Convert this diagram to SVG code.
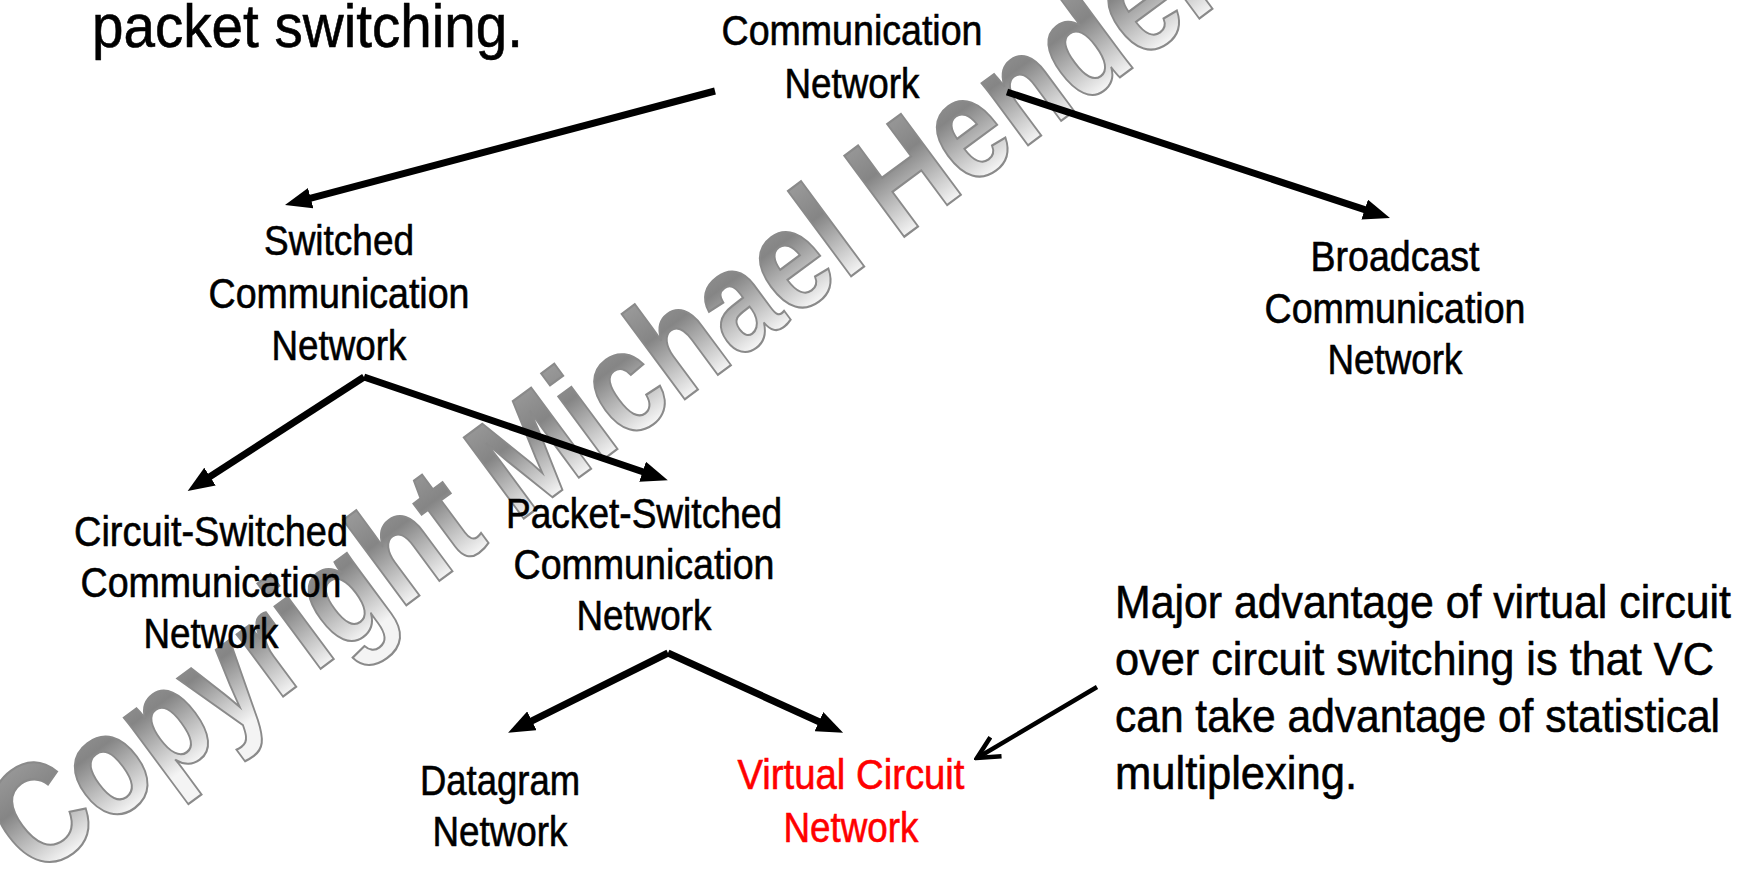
<svg xmlns="http://www.w3.org/2000/svg" width="1751" height="875" viewBox="0 0 1751 875">
<style>
.t{font-family:"Liberation Sans Narrow","Liberation Sans","Arial Narrow",Arial,sans-serif;font-size:42px;fill:#000;stroke:#000;stroke-width:0.6;text-anchor:middle}
.red{fill:#ff0000;stroke:#ff0000}
.note{font-family:"Liberation Sans Narrow","Liberation Sans","Arial Narrow",Arial,sans-serif;font-size:47px;fill:#000;stroke:#000;stroke-width:0.6}
.title{font-family:"Liberation Sans Narrow","Liberation Sans","Arial Narrow",Arial,sans-serif;font-size:62px;fill:#000;stroke:#000;stroke-width:0.6}
.wm{font-family:"Liberation Sans",Arial,sans-serif;font-weight:bold;font-size:120px;fill:url(#wmg);stroke:#8a8a8a;stroke-width:1.8}
.c{stroke:#000;stroke-width:7;fill:none;marker-end:url(#ah)}
.c2{stroke:#000;stroke-width:4.5;fill:none;marker-end:url(#oh)}
</style>
<defs>
<linearGradient id="wmg" gradientUnits="userSpaceOnUse" x1="0" y1="-92" x2="0" y2="0">
<stop offset="0" stop-color="#9c9c9c"/>
<stop offset="0.4" stop-color="#858585"/>
<stop offset="1" stop-color="#f4f4f4"/>
</linearGradient>
<marker id="ah" viewBox="0 0 38 30" markerWidth="3.8" markerHeight="3" refX="8" refY="15" orient="auto" markerUnits="strokeWidth">
<path d="M0,0 L38,15 L0,30 z" fill="#000"/>
</marker>
<marker id="oh" viewBox="0 0 26 26" markerWidth="26" markerHeight="26" refX="23" refY="13" orient="auto" markerUnits="userSpaceOnUse">
<path d="M1,2 L23,13 L1,24" fill="none" stroke="#000" stroke-width="4.5" stroke-linejoin="miter"/>
</marker>
</defs>
<rect width="1751" height="875" fill="#fff"/>
<g id="watermark">
<text class="wm" transform="translate(35,880) rotate(-36.5) scale(1,1.22)">Copyright Michael Henderson</text>
</g>
<g id="title">
<text class="title" x="92" y="47" textLength="431" lengthAdjust="spacingAndGlyphs">packet switching.</text>
</g>
<g id="connectors">
<line class="c" x1="715" y1="91" x2="305.3" y2="199.6"/>
<line class="c" x1="1007" y1="92" x2="1370" y2="211.4"/>
<line class="c" x1="364" y1="377" x2="205.3" y2="479.6"/>
<line class="c" x1="364" y1="377" x2="647.9" y2="473.5"/>
<line class="c" x1="668" y1="653" x2="526.9" y2="723.3"/>
<line class="c" x1="668" y1="653" x2="824" y2="724"/>
<line class="c2" x1="1097" y1="687" x2="977" y2="758"/>
</g>
<g id="n-communication">
<text class="t" x="852" y="45" textLength="261" lengthAdjust="spacingAndGlyphs">Communication</text>
<text class="t" x="852" y="98" textLength="135" lengthAdjust="spacingAndGlyphs">Network</text>
</g>
<g id="n-switched">
<text class="t" x="339" y="255" textLength="150" lengthAdjust="spacingAndGlyphs">Switched</text>
<text class="t" x="339" y="308" textLength="261" lengthAdjust="spacingAndGlyphs">Communication</text>
<text class="t" x="339" y="360" textLength="135" lengthAdjust="spacingAndGlyphs">Network</text>
</g>
<g id="n-broadcast">
<text class="t" x="1395" y="271" textLength="169" lengthAdjust="spacingAndGlyphs">Broadcast</text>
<text class="t" x="1395" y="323" textLength="261" lengthAdjust="spacingAndGlyphs">Communication</text>
<text class="t" x="1395" y="374" textLength="135" lengthAdjust="spacingAndGlyphs">Network</text>
</g>
<g id="n-circuit">
<text class="t" x="211" y="546" textLength="274" lengthAdjust="spacingAndGlyphs">Circuit-Switched</text>
<text class="t" x="211" y="597" textLength="261" lengthAdjust="spacingAndGlyphs">Communication</text>
<text class="t" x="211" y="648" textLength="135" lengthAdjust="spacingAndGlyphs">Network</text>
</g>
<g id="n-packet">
<text class="t" x="644" y="528" textLength="276" lengthAdjust="spacingAndGlyphs">Packet-Switched</text>
<text class="t" x="644" y="579" textLength="261" lengthAdjust="spacingAndGlyphs">Communication</text>
<text class="t" x="644" y="630" textLength="135" lengthAdjust="spacingAndGlyphs">Network</text>
</g>
<g id="n-datagram">
<text class="t" x="500" y="795" textLength="160" lengthAdjust="spacingAndGlyphs">Datagram</text>
<text class="t" x="500" y="846" textLength="135" lengthAdjust="spacingAndGlyphs">Network</text>
</g>
<g id="n-virtual">
<text class="t red" x="851" y="789" textLength="227" lengthAdjust="spacingAndGlyphs">Virtual Circuit</text>
<text class="t red" x="851" y="842" textLength="135" lengthAdjust="spacingAndGlyphs">Network</text>
</g>
<g id="note">
<text class="note" x="1115" y="618" textLength="616" lengthAdjust="spacingAndGlyphs">Major advantage of virtual circuit</text>
<text class="note" x="1115" y="675" textLength="599" lengthAdjust="spacingAndGlyphs">over circuit switching is that VC</text>
<text class="note" x="1115" y="732" textLength="605" lengthAdjust="spacingAndGlyphs">can take advantage of statistical</text>
<text class="note" x="1115" y="789" textLength="242" lengthAdjust="spacingAndGlyphs">multiplexing.</text>
</g>
</svg>
